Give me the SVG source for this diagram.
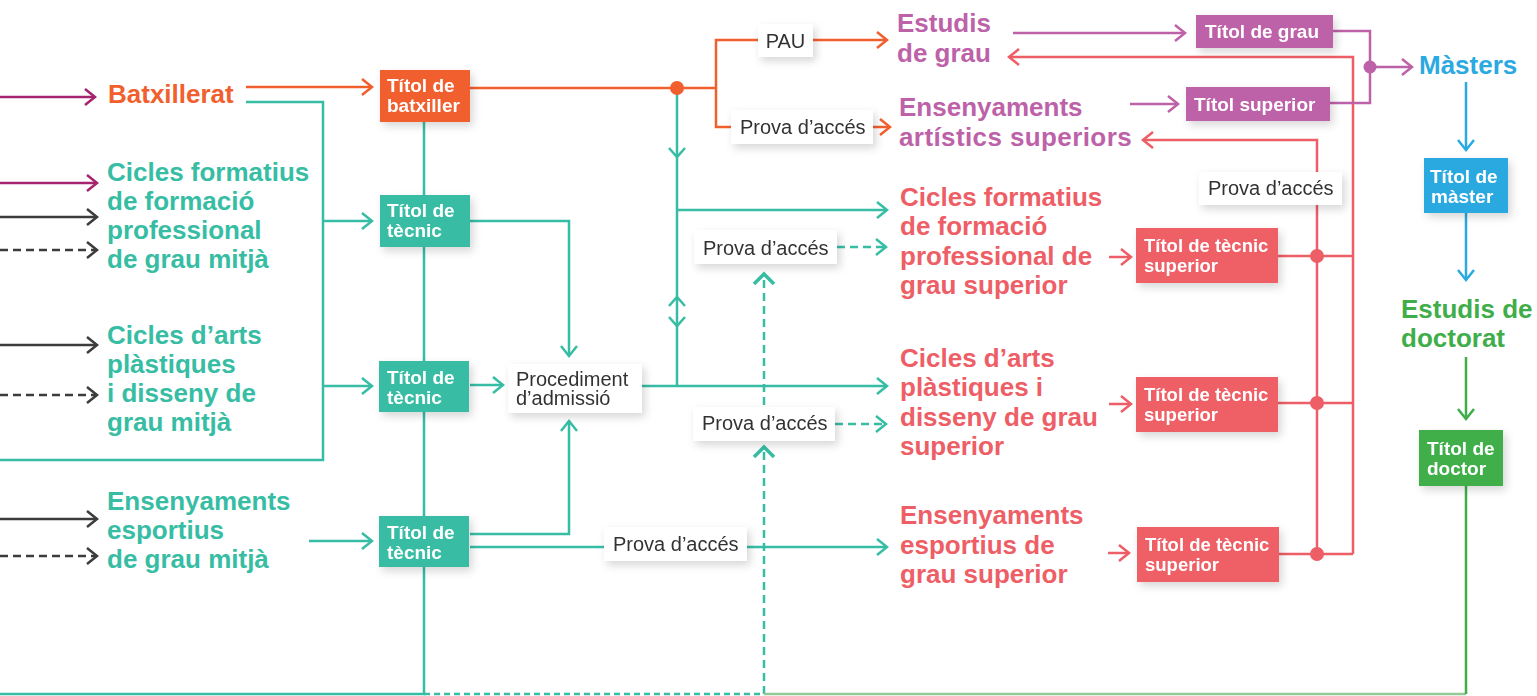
<svg xmlns="http://www.w3.org/2000/svg" width="1537" height="696" viewBox="0 0 1537 696">
<style>
.h{font-family:"Liberation Sans",Arial,sans-serif;font-weight:bold;font-size:26px}
.b{font-family:"Liberation Sans",Arial,sans-serif;font-weight:bold;font-size:19px;fill:#fff}
.bs{font-family:"Liberation Sans",Arial,sans-serif;font-weight:bold;font-size:18.5px;fill:#fff}
.l{font-family:"Liberation Sans",Arial,sans-serif;font-size:20px;fill:#333}
.ln{fill:none;stroke-width:2.5}
.t{stroke:#37BDA4}.o{stroke:#F15F2E}.p{stroke:#BD62A8}.r{stroke:#EE5E66}.bl{stroke:#2BA9E1}.g{stroke:#3FAE4A}.m{stroke:#A4246F}.d{stroke:#3C3C3E}
.ds{stroke-dasharray:8 5}
.tc{fill:#37BDA4}.oc{fill:#F15F2E}.pc{fill:#BD62A8}.rc{fill:#EE5E66}.bc{fill:#2BA9E1}.gc{fill:#3FAE4A}
.wb{fill:#fff}
</style>
<defs>
<filter id="sh" x="-20%" y="-30%" width="150%" height="180%"><feDropShadow dx="3" dy="4" stdDeviation="4" flood-color="#000" flood-opacity="0.16"/></filter>
<marker id="mT" markerUnits="userSpaceOnUse" markerWidth="14" markerHeight="20" refX="12" refY="9" orient="auto" overflow="visible"><path d="M2,1 L12,9 L2,17" fill="none" stroke="#37BDA4" stroke-width="2.5"/></marker>
<marker id="mO" markerUnits="userSpaceOnUse" markerWidth="14" markerHeight="20" refX="12" refY="9" orient="auto" overflow="visible"><path d="M2,1 L12,9 L2,17" fill="none" stroke="#F15F2E" stroke-width="2.5"/></marker>
<marker id="mP" markerUnits="userSpaceOnUse" markerWidth="14" markerHeight="20" refX="12" refY="9" orient="auto" overflow="visible"><path d="M2,1 L12,9 L2,17" fill="none" stroke="#BD62A8" stroke-width="2.5"/></marker>
<marker id="mR" markerUnits="userSpaceOnUse" markerWidth="14" markerHeight="20" refX="12" refY="9" orient="auto" overflow="visible"><path d="M2,1 L12,9 L2,17" fill="none" stroke="#EE5E66" stroke-width="2.5"/></marker>
<marker id="mB" markerUnits="userSpaceOnUse" markerWidth="14" markerHeight="20" refX="12" refY="9" orient="auto" overflow="visible"><path d="M2,1 L12,9 L2,17" fill="none" stroke="#2BA9E1" stroke-width="2.5"/></marker>
<marker id="mG" markerUnits="userSpaceOnUse" markerWidth="14" markerHeight="20" refX="12" refY="9" orient="auto" overflow="visible"><path d="M2,1 L12,9 L2,17" fill="none" stroke="#3FAE4A" stroke-width="2.5"/></marker>
<marker id="mM" markerUnits="userSpaceOnUse" markerWidth="14" markerHeight="20" refX="12" refY="9" orient="auto" overflow="visible"><path d="M2,1 L12,9 L2,17" fill="none" stroke="#A4246F" stroke-width="2.5"/></marker>
<marker id="mD" markerUnits="userSpaceOnUse" markerWidth="14" markerHeight="20" refX="12" refY="9" orient="auto" overflow="visible"><path d="M2,1 L12,9 L2,17" fill="none" stroke="#3C3C3E" stroke-width="2.5"/></marker>
</defs>
<rect width="1537" height="696" fill="#fff"/>

<g id="connectors">
<path class="ln m" d="M0,97 H95" marker-end="url(#mM)"/>
<path class="ln m" d="M0,183 H97" marker-end="url(#mM)"/>
<path class="ln d" d="M0,217 H97" marker-end="url(#mD)"/>
<path class="ln d ds" d="M0,250 H97" marker-end="url(#mD)"/>
<path class="ln d" d="M0,345 H97" marker-end="url(#mD)"/>
<path class="ln d ds" d="M0,395 H97" marker-end="url(#mD)"/>
<path class="ln d" d="M0,519 H97" marker-end="url(#mD)"/>
<path class="ln d ds" d="M0,556 H97" marker-end="url(#mD)"/>
<path class="ln o" d="M246,87 H372" marker-end="url(#mO)"/>
<path class="ln o" d="M470,88 H716"/>
<path class="ln o" d="M758,40 H716 V127 H731"/>
<path class="ln o" d="M813,40 H887" marker-end="url(#mO)"/>
<path class="ln o" d="M873,127 H890" marker-end="url(#mO)"/>
<path class="ln t" d="M246,102 H323 V460 H0"/>
<path class="ln t" d="M323,221 H372" marker-end="url(#mT)"/>
<path class="ln t" d="M323,386 H372" marker-end="url(#mT)"/>
<path class="ln t" d="M309,541 H372" marker-end="url(#mT)"/>
<path class="ln t" d="M424,122 V694 H0"/>
<path class="ln t" d="M470,221 H569 V356" marker-end="url(#mT)"/>
<path class="ln t" d="M470,385 H503" marker-end="url(#mT)"/>
<path class="ln t" d="M470,534 H569 V421" marker-end="url(#mT)"/>
<path class="ln t" d="M470,547 H604"/>
<path class="ln t" d="M747,547 H887" marker-end="url(#mT)"/>
<path class="ln t" d="M642,386 H887" marker-end="url(#mT)"/>
<path class="ln t" d="M677,88 V386"/>
<path class="ln t" d="M669,148 L677,157 L685,148 M669,306 L677,297 L685,306 M669,317 L677,326 L685,317"/>
<path class="ln t" d="M677,210 H887" marker-end="url(#mT)"/>
<path class="ln t ds" d="M837,247 H886" marker-end="url(#mT)"/>
<path class="ln t ds" d="M835,424 H886" marker-end="url(#mT)"/>
<path class="ln t ds" d="M764,694 V450"/>
<path class="ln t ds" d="M764,405 V277"/>
<path class="t" fill="none" stroke-width="3.6" d="M754,457 L764,447 L774,457 M754,284 L764,274 L774,284"/>
<path class="ln t" stroke-dasharray="6 4" d="M424,694 H764"/>
<path class="ln" stroke="#93C996" d="M764,694 H1466"/>
<path class="ln g" d="M1466,694 V486"/>
<path class="ln g" d="M1466,357 V419" marker-end="url(#mG)"/>
<path class="ln bl" d="M1466,82 V150" marker-end="url(#mB)"/>
<path class="ln bl" d="M1466,213 V280" marker-end="url(#mB)"/>
<path class="ln r" d="M1353,554 V57 H1009" marker-end="url(#mR)"/>
<path class="ln r" d="M1317,554 V140 H1143" marker-end="url(#mR)"/>
<path class="ln r" d="M1277,256 H1353 M1277,403 H1353 M1279,554 H1353"/>
<circle class="rc" cx="1317" cy="256" r="7"/>
<circle class="rc" cx="1317" cy="403" r="7"/>
<circle class="rc" cx="1317" cy="554" r="7"/>
<path class="ln r" d="M1109,257 H1131" marker-end="url(#mR)"/>
<path class="ln r" d="M1109,404 H1131" marker-end="url(#mR)"/>
<path class="ln r" d="M1108,553 H1129" marker-end="url(#mR)"/>
<path class="ln p" d="M1013,33 H1185" marker-end="url(#mP)"/>
<path class="ln p" d="M1130,104 H1178" marker-end="url(#mP)"/>
<path class="ln p" d="M1333,31 H1370 V103 H1330"/>
<path class="ln p" d="M1370,67 H1412" marker-end="url(#mP)"/>
<circle class="pc" cx="1370" cy="67" r="6.5"/>
<circle class="oc" cx="677" cy="88" r="7"/>
</g>

<g id="batxillerat"><text class="h" fill="#F15F2E" x="108" y="103">Batxillerat</text></g>
<g id="cfgm"><text class="h" fill="#37BDA4" x="107" y="181">Cicles formatius<tspan x="107" y="210">de formació</tspan><tspan x="107" y="239">professional</tspan><tspan x="107" y="268">de grau mitjà</tspan></text></g>
<g id="capdgm"><text class="h" fill="#37BDA4" x="107" y="344">Cicles d’arts<tspan x="107" y="373">plàstiques</tspan><tspan x="107" y="402">i disseny de</tspan><tspan x="107" y="431">grau mitjà</tspan></text></g>
<g id="eegm"><text class="h" fill="#37BDA4" x="107" y="510">Ensenyaments<tspan x="107" y="539">esportius</tspan><tspan x="107" y="568">de grau mitjà</tspan></text></g>

<g id="titol-batxiller" filter="url(#sh)"><rect class="oc" x="380" y="70" width="90" height="52"/><text class="b" x="387" y="92">Títol de<tspan x="387" y="112">batxiller</tspan></text></g>
<g id="titol-tecnic-1" filter="url(#sh)"><rect class="tc" x="380" y="195" width="90" height="52"/><text class="b" x="387" y="217">Títol de<tspan x="387" y="237">tècnic</tspan></text></g>
<g id="titol-tecnic-2" filter="url(#sh)"><rect class="tc" x="379" y="361" width="90" height="51"/><text class="b" x="387" y="384">Títol de<tspan x="387" y="404">tècnic</tspan></text></g>
<g id="titol-tecnic-3" filter="url(#sh)"><rect class="tc" x="379" y="516" width="90" height="51"/><text class="b" x="387" y="539">Títol de<tspan x="387" y="559">tècnic</tspan></text></g>

<g id="procediment" filter="url(#sh)"><rect class="wb" x="508" y="364" width="134" height="49"/><text class="l" x="516" y="386">Procediment<tspan x="516" y="405">d’admissió</tspan></text></g>
<g id="pau" filter="url(#sh)"><rect class="wb" x="758" y="24" width="55" height="33"/><text class="l" x="785.5" y="48" text-anchor="middle">PAU</text></g>
<g id="prova-1" filter="url(#sh)"><rect class="wb" x="731" y="110" width="142" height="34"/><text class="l" x="740" y="134">Prova d’accés</text></g>
<g id="prova-2" filter="url(#sh)"><rect class="wb" x="694" y="230" width="143" height="34"/><text class="l" x="703" y="255">Prova d’accés</text></g>
<g id="prova-3" filter="url(#sh)"><rect class="wb" x="693" y="407" width="142" height="34"/><text class="l" x="702" y="430">Prova d’accés</text></g>
<g id="prova-4" filter="url(#sh)"><rect class="wb" x="604" y="527" width="143" height="34"/><text class="l" x="613" y="551">Prova d’accés</text></g>
<g id="prova-5" filter="url(#sh)"><rect class="wb" x="1199" y="172" width="143" height="33"/><text class="l" x="1208" y="195">Prova d’accés</text></g>

<g id="estudis-grau"><text class="h" fill="#BD62A8" x="897" y="32">Estudis<tspan x="897" y="62">de grau</tspan></text></g>
<g id="eas"><text class="h" fill="#BD62A8" x="899" y="116">Ensenyaments<tspan x="899" y="145.5" letter-spacing="0.4">artístics superiors</tspan></text></g>
<g id="cfgs"><text class="h" fill="#EE5E66" x="900" y="206">Cicles formatius<tspan x="900" y="235">de formació</tspan><tspan x="900" y="264.5">professional de</tspan><tspan x="900" y="293.5">grau superior</tspan></text></g>
<g id="capdgs"><text class="h" fill="#EE5E66" x="900" y="367">Cicles d’arts<tspan x="900" y="396">plàstiques i</tspan><tspan x="900" y="425.5">disseny de grau</tspan><tspan x="900" y="455">superior</tspan></text></g>
<g id="eegs"><text class="h" fill="#EE5E66" x="900" y="524">Ensenyaments<tspan x="900" y="553.5">esportius de</tspan><tspan x="900" y="583">grau superior</tspan></text></g>

<g id="titol-grau" filter="url(#sh)"><rect class="pc" x="1196" y="15" width="137" height="33"/><text class="b" x="1205" y="38">Títol de grau</text></g>
<g id="titol-superior" filter="url(#sh)"><rect class="pc" x="1186" y="87" width="144" height="34"/><text class="b" x="1194" y="111">Títol superior</text></g>
<g id="tts-1" filter="url(#sh)"><rect class="rc" x="1136" y="228" width="142" height="55"/><text class="bs" x="1144" y="252">Títol de tècnic<tspan x="1144" y="272">superior</tspan></text></g>
<g id="tts-2" filter="url(#sh)"><rect class="rc" x="1136" y="377" width="142" height="55"/><text class="bs" x="1144" y="401">Títol de tècnic<tspan x="1144" y="421">superior</tspan></text></g>
<g id="tts-3" filter="url(#sh)"><rect class="rc" x="1137" y="527" width="142" height="55"/><text class="bs" x="1145" y="551">Títol de tècnic<tspan x="1145" y="571">superior</tspan></text></g>

<g id="masters"><text class="h" fill="#2BA9E1" x="1419" y="74">Màsters</text></g>
<g id="titol-master" filter="url(#sh)"><rect class="bc" x="1424" y="158" width="84" height="55"/><text class="b" x="1430" y="183">Títol de<tspan x="1431" y="203">màster</tspan></text></g>
<g id="doctorat"><text class="h" fill="#3FAE4A" x="1401" y="318">Estudis de<tspan x="1401" y="347">doctorat</tspan></text></g>
<g id="titol-doctor" filter="url(#sh)"><rect class="gc" x="1419" y="430" width="84" height="56"/><text class="b" x="1427" y="455">Títol de<tspan x="1427" y="475">doctor</tspan></text></g>
</svg>
